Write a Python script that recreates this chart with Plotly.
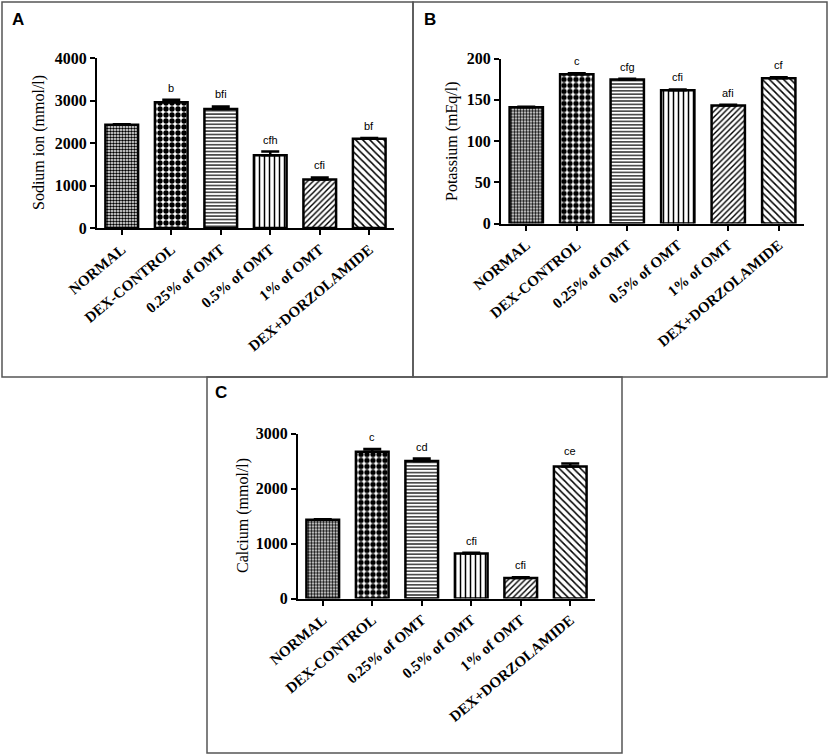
import plotly.graph_objects as go

W, H = 829, 756

groups = ["NORMAL", "DEX-CONTROL", "0.25% of OMT", "0.5% of OMT", "1% of OMT", "DEX+DORZOLAMIDE"]

sodium = [2430, 2960, 2800, 1710, 1140, 2100]
sodium_err = [10, 55, 60, 90, 50, 15]
sodium_letters = ["", "b", "bfi", "cfh", "cfi", "bf"]

potassium = [141, 181, 174.5, 161.5, 143, 176]
potassium_err = [0.6, 1.2, 1.0, 1.0, 0.8, 1.2]
potassium_letters = ["", "c", "cfg", "cfi", "afi", "cf"]

calcium = [1430, 2670, 2500, 820, 375, 2400]
calcium_err = [10, 50, 45, 10, 10, 55]
calcium_letters = ["", "c", "cd", "cfi", "cfi", "ce"]

# fill patterns, one per group (GraphPad style)
pat_shape = [".", ".", "-", "|", "/", "\\"]
pat_size = [3, 6, 3.4, 5, 4, 5]
pat_solid = [0.55, 0.62, 0.35, 0.3, 0.35, 0.3]

serif = "Liberation Serif"
sans = "Liberation Sans"


def px_x(p):
    return p / W


def px_y(p):
    return 1 - p / H


# panel plot areas in pixels: (left, right, top, bottom), plus y title x position
panels = [
    dict(data=sodium, err=sodium_err, letters=sodium_letters, ymax=4000, dtick=1000,
         title="Sodium ion (mmol/l)", box=(97, 394, 58, 228), title_x=39),
    dict(data=potassium, err=potassium_err, letters=potassium_letters, ymax=200, dtick=50,
         title="Potassium (mEq/l)", box=(501, 804, 58.5, 223.5), title_x=452),
    dict(data=calcium, err=calcium_err, letters=calcium_letters, ymax=3000, dtick=1000,
         title="Calcium (mmol/l)", box=(298, 595, 433.5, 598.5), title_x=243),
]

fig = go.Figure()
annotations = []

for i, p in enumerate(panels):
    n = "" if i == 0 else str(i + 1)
    fig.add_trace(go.Bar(
        x=groups, y=p["data"], xaxis="x" + n, yaxis="y" + n,
        width=0.66,
        marker=dict(color="white", line=dict(color="black", width=2.5),
                    pattern=dict(shape=pat_shape, size=pat_size, solidity=pat_solid,
                                 fgcolor="black", bgcolor="white", fillmode="replace")),
        error_y=dict(type="data", array=p["err"], symmetric=False,
                     arrayminus=[0] * len(groups), color="black", thickness=2.5, width=9),
        showlegend=False,
    ))
    l, r, t, b = p["box"]
    fig.update_layout({
        "xaxis" + n: dict(domain=[px_x(l), px_x(r)], anchor="y" + n, range=[-0.5, 5.5],
                          automargin=False,
                          showline=True, linecolor="black", linewidth=2,
                          ticks="outside", ticklen=5, tickwidth=2, tickcolor="black",
                          tickangle=-40, tickfont=dict(family=serif, size=15, color="black", weight=700),
                          showgrid=False, zeroline=False),
        "yaxis" + n: dict(domain=[px_y(b), px_y(t)], anchor="x" + n, range=[0, p["ymax"]],
                          automargin=False,
                          dtick=p["dtick"], showline=True, linecolor="black", linewidth=2,
                          ticks="outside", ticklen=5, tickwidth=2, tickcolor="black",
                          tickfont=dict(family=serif, size=16, color="black", weight=700),
                          showgrid=False, zeroline=False),
    })
    # y axis title
    annotations.append(dict(x=px_x(p["title_x"]), y=px_y((t + b) / 2), xref="paper", yref="paper",
                            text=p["title"], textangle=-90, showarrow=False,
                            xanchor="center", yanchor="middle",
                            font=dict(family=serif, size=16, color="black")))
    for g, v, e, lab in zip(groups, p["data"], p["err"], p["letters"]):
        if lab:
            annotations.append(dict(x=g, y=v + e, xref="x" + n, yref="y" + n, text=lab,
                                    showarrow=False, yanchor="bottom", yshift=4,
                                    font=dict(family=sans, size=11, color="#000000")))

# panel letters
for lab, x0, y0 in [("A", 10, 8), ("B", 422, 8), ("C", 213, 381)]:
    annotations.append(dict(x=px_x(x0), y=px_y(y0), xref="paper", yref="paper", text="<b>%s</b>" % lab,
                            showarrow=False, xanchor="left", yanchor="top",
                            font=dict(family=sans, size=17, color="black")))

# panel frames
boxes = [(2, 413, 2, 377), (413, 827, 2, 377), (207, 622, 377, 753)]
shapes = []
for x0, x1, y0, y1 in boxes:
    shapes.append(dict(type="rect", xref="paper", yref="paper",
                       x0=px_x(x0), x1=px_x(x1), y0=px_y(y1), y1=px_y(y0),
                       line=dict(color="#555555", width=1.5)))

fig.update_layout(
    width=W, height=H,
    margin=dict(l=0, r=0, t=0, b=0),
    paper_bgcolor="white", plot_bgcolor="white",
    annotations=annotations, shapes=shapes,
)

# page body has a default 8px margin; drop it so the figure fills the window
fig.write_html("out.html", config={"displayModeBar": False},
               post_script="document.body.style.margin = '0';")
